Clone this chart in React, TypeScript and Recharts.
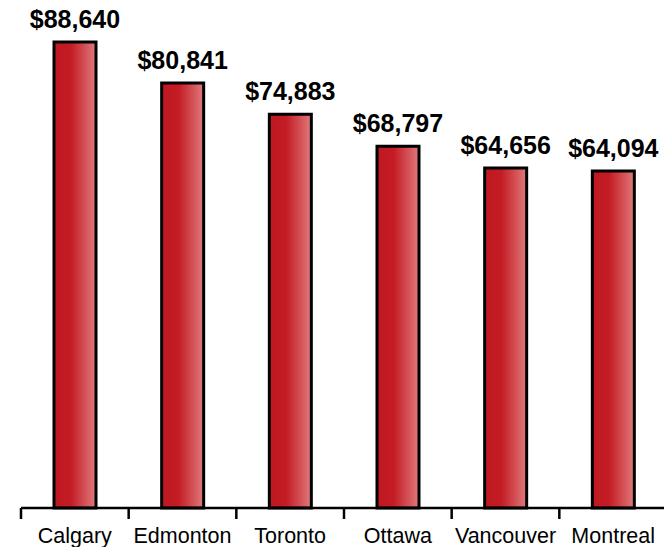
import { BarChart, Bar, XAxis, YAxis, LabelList } from "recharts";

const cities = ["Calgary", "Edmonton", "Toronto", "Ottawa", "Vancouver", "Montreal"];
const salaries = [88640, 80841, 74883, 68797, 64656, 64094];

const data = cities.map((city, i) => ({ city, value: salaries[i] }));

const CHART_W = 700;
const MARGIN_L = 21;
const MARGIN_R = 33;
const BAND = (CHART_W - MARGIN_L - MARGIN_R) / cities.length;
const FONT = "'Liberation Sans', Arial, Helvetica, sans-serif";

const fmt = (v: number) => "$" + v.toLocaleString("en-US");

function CityTick(props: any) {
  const { x, y, payload } = props;
  const left = x - BAND / 2;
  return (
    <g>
      <line x1={left} y1={y} x2={left} y2={y + 11} stroke="#000" strokeWidth={2.5} />
      <text x={x} y={y + 35} textAnchor="middle" fill="#000" fontSize={21.5} fontFamily={FONT}>
        {payload.value}
      </text>
    </g>
  );
}

export default function App() {
  return (
    <div style={{ position: "absolute", left: 0, top: 0, width: 664, height: 547, overflow: "hidden", background: "#fff" }}>
      <BarChart
        width={CHART_W}
        height={547}
        data={data}
        margin={{ top: 42, right: MARGIN_R, bottom: 0, left: MARGIN_L }}
      >
        <defs>
          <linearGradient id="barRed" x1="0" y1="0" x2="1" y2="0">
            <stop offset="0%" stopColor="#c01820" />
            <stop offset="40%" stopColor="#c41c24" />
            <stop offset="100%" stopColor="#df7a7c" />
          </linearGradient>
        </defs>
        <YAxis hide domain={[0, 88640]} />
        <XAxis
          dataKey="city"
          height={39}
          tickSize={0}
          tickMargin={0}
          axisLine={{ stroke: "#000", strokeWidth: 2.5 }}
          tickLine={false}
          tick={<CityTick />}
          interval={0}
        />
        <Bar dataKey="value" barSize={42} fill="url(#barRed)" stroke="#000" strokeWidth={3} isAnimationActive={false}>
          <LabelList
            dataKey="value"
            position="top"
            offset={14}
            formatter={(v: any) => fmt(Number(v))}
            style={{ fill: "#000", fontSize: 25, fontWeight: "bold", fontFamily: FONT }}
          />
        </Bar>
      </BarChart>
    </div>
  );
}
